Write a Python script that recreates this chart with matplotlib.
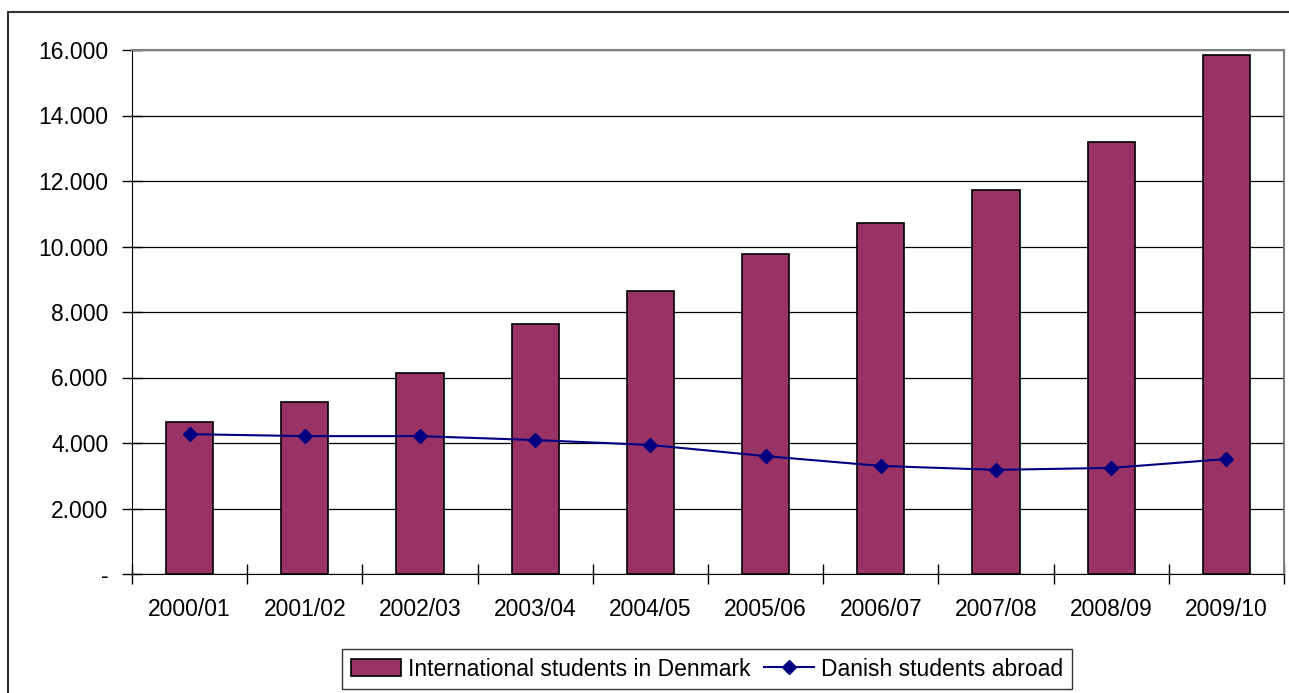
import matplotlib.pyplot as plt
import numpy as np
from matplotlib.patches import Rectangle

plt.rcParams['font.family'] = ['Liberation Sans', 'DejaVu Sans']

years = ['2000/01', '2001/02', '2002/03', '2003/04', '2004/05',
         '2005/06', '2006/07', '2007/08', '2008/09', '2009/10']
international = [4640, 5250, 6140, 7630, 8640, 9770, 10720, 11720, 13190, 15850]
danish_abroad = [4270, 4210, 4210, 4090, 3940, 3600, 3300, 3180, 3240, 3510]
yticks = [0, 2000, 4000, 6000, 8000, 10000, 12000, 14000, 16000]
ytick_labels = ['-', '2.000', '4.000', '6.000', '8.000', '10.000', '12.000', '14.000', '16.000']

fig = plt.figure(figsize=(12.89, 6.93), dpi=100)
ax = fig.add_axes([132 / 1289, 1 - 574 / 693, (1284 - 132) / 1289, (574 - 50) / 693])

# outer chart frame (runs off the right and bottom edges)
fig.patches.append(Rectangle((8 / 1289, -0.05), 1.2, 1 - 12 / 693 + 0.05,
                             transform=fig.transFigure, fill=False,
                             edgecolor='#333333', linewidth=1.5, clip_on=False))

x = np.arange(len(years))
bars = ax.bar(x, international, width=0.41, color='#993366', edgecolor='black',
              linewidth=1.2, label='International students in Denmark', zorder=3)
line, = ax.plot(x, danish_abroad, color='#000080', marker='D', markersize=7,
                linewidth=1.5, label='Danish students abroad', zorder=4)

ax.set_xlim(-0.5, len(years) - 0.5)
ax.set_ylim(0, 16000)
ax.set_yticks(yticks)
ax.set_yticklabels(ytick_labels, fontsize=16.5)
ax.yaxis.grid(True, color='black', linewidth=0.9, zorder=0)

ax.set_xticks(x)
ax.set_xticklabels(years, fontsize=16.5)
ax.set_xticks(np.arange(-0.5, len(years), 1.0), minor=True)
ax.tick_params(axis='x', which='major', length=0, pad=17)
ax.tick_params(axis='x', which='minor', length=14, direction='inout', width=1)
ax.tick_params(axis='y', length=14, direction='inout', width=1, pad=10)

for side in ['top', 'right']:
    ax.spines[side].set_color('#808080')
    ax.spines[side].set_linewidth(1.5)
ax.spines['left'].set_color('black')
ax.spines['bottom'].set_color('black')

leg = fig.legend([bars, line], ['International students in Denmark', 'Danish students abroad'],
                 loc='center', bbox_to_anchor=(707 / 1289, 1 - 669 / 693), ncol=2,
                 fontsize=16.5, frameon=True, fancybox=False, edgecolor='black',
                 handlelength=2.2, handletextpad=0.3, columnspacing=0.6,
                 borderpad=0.35)
leg.get_frame().set_linewidth(1.0)

fig.savefig('out.png', dpi=100)
